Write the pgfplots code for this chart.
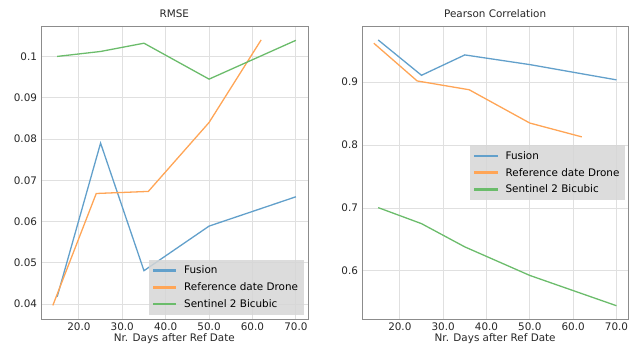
\documentclass[border=0pt]{standalone}
\usepackage{fontspec}
\setmainfont{DejaVu Sans}
\usepackage{pgfplots}
\pgfplotsset{compat=1.18}
\definecolor{cblue}{RGB}{98,160,203}
\definecolor{corange}{RGB}{255,165,86}
\definecolor{cgreen}{RGB}{107,188,107}
\definecolor{legfill}{RGB}{214,214,214}
\begin{document}
\fontsize{10.4bp}{12bp}\selectfont
\begin{tikzpicture}
\useasboundingbox (0,0) rectangle (629bp,345bp);
\pgfplotsset{
  myax/.style={
    scale only axis, height=292.3bp,
    axis line style={black!45},
    grid=major, major grid style={black!12, line width=0.8bp},
    major tick length=0pt, tick style={draw=none},
    xmin=11.2, xmax=72.8, xtick={20,30,40,50,60,70},
    scaled ticks=false,
    xticklabel style={/pgf/number format/.cd, fixed, fixed zerofill, precision=1, assume math mode=true},
    tick label style={font=\fontsize{10.4bp}{12bp}\selectfont, black!85},
    xlabel={Nr. Days after Ref Date},
    xlabel style={at={(axis description cs:0.5,0)}, anchor=base, yshift=-22bp, inner sep=0pt, black!85},
    title style={at={(axis description cs:0.5,1)}, anchor=base, yshift=3.4bp, inner sep=0pt, black!85},
    legend cell align=left,
    legend image code/.code={\fill[##1] (0bp,-0.75bp) rectangle (22bp,0.75bp);},
    legend style={draw=none, fill=legfill, fill opacity=0.85, text opacity=1,
      inner xsep=4bp, inner ysep=4bp, row sep=3.4bp, column sep=6bp,
      font=\fontsize{10.4bp}{12bp}\selectfont},
    every axis plot/.append style={line width=1.3bp},
  }
}
\begin{axis}[myax, at={(40.7bp,26bp)}, anchor=south west, width=267.3bp,
  title={RMSE},
  ymin=0.0364, ymax=0.1072, ytick={0.04,0.05,0.06,0.07,0.08,0.09,0.1},
  yticklabel style={/pgf/number format/.cd, fixed, precision=2, assume math mode=true},
  legend style={at={(0.986,0.0137)}, anchor=south east}]
\addplot[color=cblue] coordinates {(15,0.0418) (25,0.0790) (35,0.0481) (50,0.0589) (70,0.0660)};
\addplot[color=corange] coordinates {(14,0.0397) (24,0.0668) (36,0.0673) (50,0.0840) (62,0.1040)};
\addplot[color=cgreen] coordinates {(15,0.1000) (25,0.1012) (35,0.1032) (50,0.0945) (70,0.1039)};
\legend{Fusion, Reference date Drone, Sentinel 2 Bicubic}
\end{axis}
\begin{axis}[myax, at={(361.7bp,26bp)}, anchor=south west, width=266.9bp,
  title={Pearson Correlation},
  ymin=0.5233, ymax=0.9883, ytick={0.6,0.7,0.8,0.9},
  yticklabel style={/pgf/number format/.cd, fixed, precision=1, assume math mode=true},
  legend style={at={(0.989,0.5)}, anchor=east}]
\addplot[color=cblue] coordinates {(15,0.9672) (25,0.9110) (35,0.9434) (50,0.9280) (70,0.9037)};
\addplot[color=corange] coordinates {(14,0.9620) (24,0.9020) (36,0.8880) (50,0.8350) (62,0.8130)};
\addplot[color=cgreen] coordinates {(15,0.7005) (25,0.6750) (35,0.6380) (50,0.5926) (70,0.5444)};
\legend{Fusion, Reference date Drone, Sentinel 2 Bicubic}
\end{axis}
\end{tikzpicture}
\end{document}
